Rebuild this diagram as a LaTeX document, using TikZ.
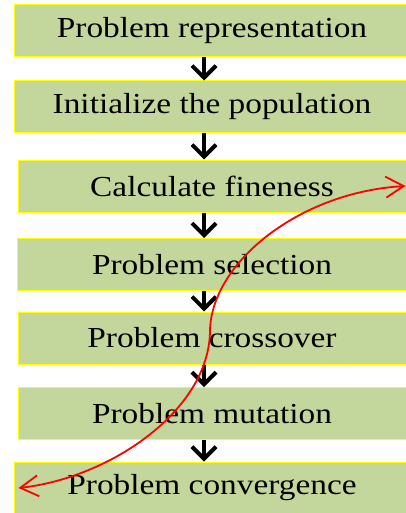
\documentclass[tikz,border=0pt]{standalone}
\usepackage{graphicx}
\usepackage{fontspec}
\setmainfont{Liberation Serif}
\usetikzlibrary{arrows.meta}
\definecolor{boxfill}{HTML}{C3D69B}
\definecolor{boxline}{HTML}{FFFF00}
\newcommand\widetext[1]{\scalebox{1.15}[1]{#1}}
\begin{document}
\begin{tikzpicture}[x=1pt,y=-1pt,
  stepbox/.style={draw=boxline, line width=1pt, fill=boxfill, minimum height=52pt,
    inner sep=0pt, font=\fontsize{29}{34}\selectfont},
  flow/.style={line width=4pt, -{Straight Barb[length=12pt,width=24pt]}},
  loopback/.style={red, line width=1.8pt,
    {Straight Barb[length=18pt,width=21pt]}-{Straight Barb[length=18pt,width=21pt]}}]
\useasboundingbox (0,0) rectangle (406,513);
\clip (0,0) rectangle (406,513);
\node[stepbox, minimum width=396pt] (b1) at (212,31) {\widetext{Problem representation}};
\node[stepbox, minimum width=396pt] (b2) at (212,107) {\widetext{Initialize the population}};
\node[stepbox, minimum width=388pt] (b3) at (212,186) {\widetext{Calculate fineness}};
\node[stepbox, minimum width=390pt] (b4) at (212,264.5) {\widetext{Problem selection}};
\node[stepbox, minimum width=388pt] (b5) at (212,338) {\widetext{Problem crossover}};
\node[stepbox, minimum width=388pt] (b6) at (212,413.5) {\widetext{Problem mutation}};
\node[stepbox, minimum width=396pt] (b7) at (212,488) {\widetext{Problem convergence}};
\foreach \a/\b in {b1/b2,b2/b3,b3/b4,b4/b5,b5/b6,b6/b7}
  \draw[flow] ([xshift=-8pt]\a.south) -- ([xshift=-8pt]\b.north);
\coordinate (bend) at (210,330);
\draw[loopback] ([xshift=5pt]b7.west) .. controls (110,478) and (210,410) .. (bend)
  .. controls (212,262) and (300,192) .. ([xshift=-1pt]b3.east);
\end{tikzpicture}
\end{document}
